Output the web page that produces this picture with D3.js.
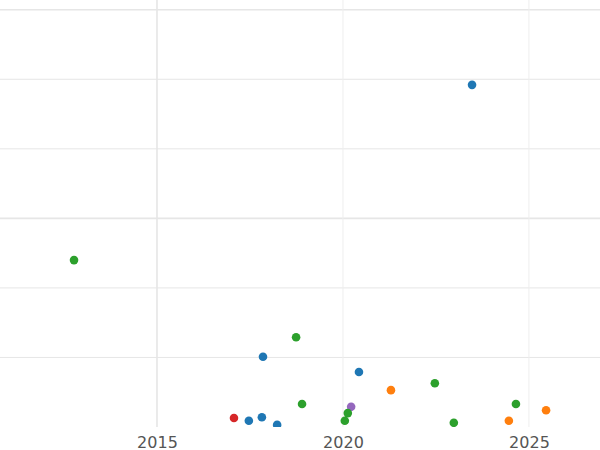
<!DOCTYPE html>
<html>
<head>
<script src="https://cdn.jsdelivr.net/npm/d3@7"></script>
<style>
body { margin: 0; background: #fff; }
text { font-family: "DejaVu Sans", sans-serif; }
</style>
</head>
<body>
<div id="chart"></div>
<script>
// point data
var years = [2012.77, 2023.47, 2018.74, 2017.85, 2020.43, 2021.29, 2022.47, 2018.90, 2020.22, 2020.13, 2020.05, 2017.07, 2017.47, 2017.82, 2018.23, 2022.98, 2024.46, 2024.65, 2025.46];
var values = [2.40, 4.92, 1.29, 1.01, 0.79, 0.53, 0.63, 0.33, 0.29, 0.20, 0.09, 0.13, 0.09, 0.14, 0.03, 0.06, 0.09, 0.33, 0.24];
var groups = ["g", "b", "g", "b", "b", "o", "g", "g", "p", "g", "g", "r", "b", "b", "b", "g", "o", "g", "o"];
var xTicks = [2015, 2020, 2025];
var yTicks = [1, 2, 3, 4, 5, 6];
var majorY = [3, 6];

var colors = { b: "#1f77b4", o: "#ff7f0e", g: "#2ca02c", r: "#d62728", p: "#9467bd" };

var svgWidth = 600, svgHeight = 450;
var plotBottom = 427;

var svg = d3.select("#chart").append("svg")
  .attr("width", svgWidth)
  .attr("height", svgHeight);

var x = d3.scaleLinear().domain([2010.78, 2026.91]).range([0, svgWidth]);
var y = d3.scaleLinear().domain([0, 6.14]).range([plotBottom, 0]);

var plot = svg.append("g");
plot.append("clipPath").attr("id", "clip")
  .append("rect").attr("width", svgWidth).attr("height", plotBottom);

//gridlines
plot.selectAll(".gy").data(yTicks).enter().append("line")
  .attr("x1", 0).attr("x2", svgWidth)
  .attr("y1", d => y(d)).attr("y2", d => y(d))
  .attr("stroke", "#e6e6e6")
  .attr("stroke-width", d => majorY.includes(d) ? 1.6 : 1);

plot.selectAll(".gx").data(xTicks).enter().append("line")
  .attr("x1", d => x(d)).attr("x2", d => x(d))
  .attr("y1", 0).attr("y2", plotBottom)
  .attr("stroke", d => d === 2015 ? "#e6e6e6" : "#eeeeee")
  .attr("stroke-width", d => d === 2015 ? 1.6 : 1);

var xAxis = svg.append("g")
  .attr("transform", `translate(0, ${plotBottom})`)
  .call(d3.axisBottom(x).tickValues(xTicks).tickFormat(d3.format("d")).tickSize(0));
xAxis.select(".domain").remove();
xAxis.selectAll("text")
  .attr("dy", "1.15em")
  .attr("font-size", 16)
  .attr("fill", "#555");

plot.append("g").attr("clip-path", "url(#clip)")
  .selectAll("circle").data(years).enter().append("circle")
  .attr("cx", d => x(d))
  .attr("cy", (d, i) => y(values[i]))
  .attr("r", 4.3)
  .attr("fill", (d, i) => colors[groups[i]]);
</script>
</body>
</html>
